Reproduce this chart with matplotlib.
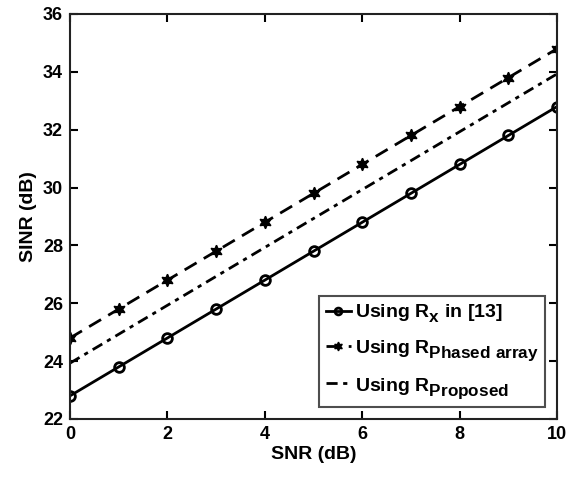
import matplotlib
matplotlib.use('Agg')
import matplotlib.pyplot as plt
import numpy as np
try:
    import matplotlib._mathtext as _mt
    _mt.SHRINK_FACTOR = 0.88
    _mt.FontConstantsBase.sub1 = 0.55
    _mt.FontConstantsBase.sub2 = 0.65
except Exception:
    pass

snr = [0, 1, 2, 3, 4, 5, 6, 7, 8, 9, 10]
sinr_rx13 = [22.8, 23.8, 24.8, 25.8, 26.8, 27.8, 28.8, 29.8, 30.8, 31.8, 32.8]
sinr_phased = [24.8, 25.8, 26.8, 27.8, 28.8, 29.8, 30.8, 31.8, 32.8, 33.8, 34.8]
sinr_proposed = [23.93, 24.93, 25.93, 26.93, 27.93, 28.93, 29.93, 30.93, 31.93, 32.93, 33.93]
xticks = [0, 2, 4, 6, 8, 10]
yticks = [22, 24, 26, 28, 30, 32, 34, 36]

plt.rcParams['font.family'] = ['Liberation Sans', 'DejaVu Sans']
plt.rcParams['font.weight'] = 'bold'
plt.rcParams['mathtext.fontset'] = 'custom'
plt.rcParams['mathtext.rm'] = 'Liberation Sans:bold'
plt.rcParams['mathtext.bf'] = 'Liberation Sans:bold'
plt.rcParams['mathtext.it'] = 'Liberation Sans:bold'
plt.rcParams['mathtext.default'] = 'rm'

fig = plt.figure(figsize=(5.71, 4.79), dpi=100)
ax = fig.add_axes([0.1226, 0.1253, 0.853, 0.8455])

ax.plot(snr, sinr_rx13, '-', color='black', lw=2, marker='o', ms=7, mfc='none', mew=2,
        label=r'Using R$_{\mathrm{x}}$ in [13]')
ax.plot(snr, sinr_phased, '--', color='black', lw=2, marker=(6, 1, 0), ms=9, mfc='black', mew=1,
        dashes=(5, 3), label=r'Using R$_{\mathrm{Phased\ array}}$')
ax.plot(snr, sinr_proposed, '-.', color='black', lw=2, dashes=(4, 2, 1.5, 2),
        label=r'Using R$_{\mathrm{Proposed}}$')

ax.set_xlim(0, 10)
ax.set_ylim(22, 36)
ax.set_xticks(xticks)
ax.set_yticks(yticks)
ax.tick_params(direction='in', top=True, right=True, length=6, width=1.5, labelsize=13, pad=5)
for lab in ax.get_xticklabels() + ax.get_yticklabels():
    lab.set_fontweight('bold')
for sp in ax.spines.values():
    sp.set_linewidth(1.5)
    sp.set_color('#222222')

ax.set_xlabel('SNR (dB)', fontsize=14, fontweight='bold', labelpad=2)
ax.set_ylabel('SINR (dB)', fontsize=14, fontweight='bold', labelpad=4)

leg = ax.legend(loc='lower right', fontsize=14, frameon=True, fancybox=False,
                edgecolor='#222222', handlelength=1.3, handletextpad=0.2,
                borderaxespad=0.6, borderpad=0.35, labelspacing=0.65, markerscale=0.7)
leg.get_frame().set_linewidth(1.5)

fig.savefig('out.png', dpi=100)
